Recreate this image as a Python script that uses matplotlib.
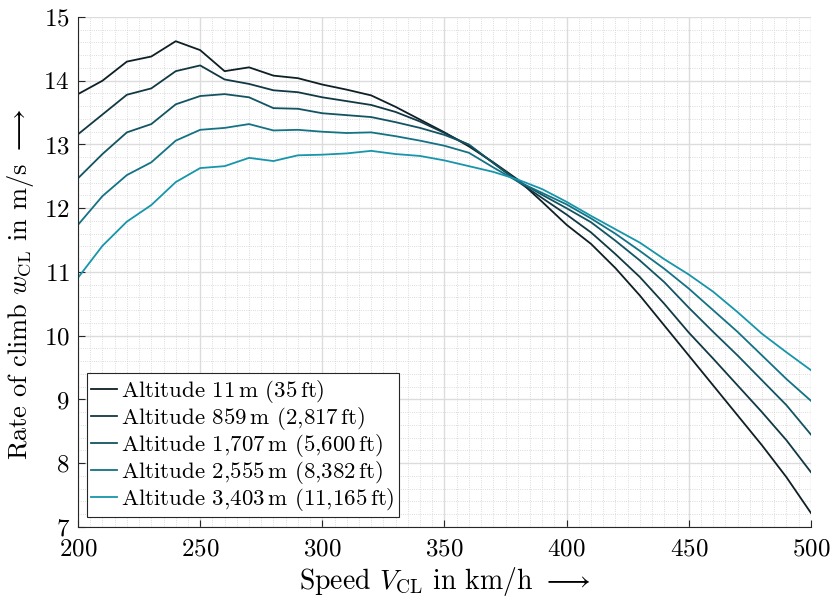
import matplotlib
matplotlib.use("Agg")
import matplotlib.pyplot as plt
from matplotlib.ticker import MultipleLocator
import numpy as np

plt.rcParams.update({
    'font.family': 'serif',
    'font.serif': ['cmr10'],
    'mathtext.fontset': 'cm',
    'axes.formatter.use_mathtext': True,
    'font.size': 17,
})

speed = np.arange(200, 501, 10)

alt_11 = [13.79, 14.00, 14.30, 14.38, 14.62, 14.48, 14.15, 14.21, 14.08, 14.04,
          13.94, 13.86, 13.77, 13.59, 13.39, 13.19, 12.97, 12.72, 12.45, 12.10,
          11.74, 11.44, 11.06, 10.63, 10.16, 9.69, 9.22, 8.75, 8.28, 7.78, 7.22]
alt_859 = [13.16, 13.47, 13.78, 13.88, 14.15, 14.24, 14.02, 13.95, 13.85, 13.82,
           13.74, 13.68, 13.62, 13.51, 13.36, 13.18, 12.99, 12.71, 12.42, 12.16,
           11.90, 11.62, 11.28, 10.92, 10.50, 10.05, 9.64, 9.22, 8.80, 8.36, 7.86]
alt_1707 = [12.47, 12.85, 13.19, 13.32, 13.63, 13.76, 13.79, 13.74, 13.57, 13.56,
            13.49, 13.46, 13.43, 13.35, 13.26, 13.15, 13.00, 12.71, 12.43, 12.21,
            12.00, 11.78, 11.49, 11.18, 10.84, 10.44, 10.06, 9.69, 9.30, 8.91, 8.45]
alt_2555 = [11.74, 12.19, 12.52, 12.72, 13.06, 13.23, 13.26, 13.32, 13.22, 13.23,
            13.20, 13.18, 13.19, 13.13, 13.06, 12.98, 12.87, 12.64, 12.42, 12.24,
            12.06, 11.84, 11.60, 11.33, 11.05, 10.74, 10.40, 10.06, 9.69, 9.32, 8.98]
alt_3403 = [10.91, 11.41, 11.79, 12.05, 12.41, 12.63, 12.66, 12.79, 12.74, 12.83,
            12.84, 12.86, 12.90, 12.85, 12.82, 12.75, 12.66, 12.57, 12.45, 12.30,
            12.10, 11.88, 11.67, 11.46, 11.20, 10.96, 10.69, 10.37, 10.03, 9.74, 9.46]

labels = [r'Altitude 11$\,$m (35$\,$ft)',
          r'Altitude 859$\,$m (2,817$\,$ft)',
          r'Altitude 1,707$\,$m (5,600$\,$ft)',
          r'Altitude 2,555$\,$m (8,382$\,$ft)',
          r'Altitude 3,403$\,$m (11,165$\,$ft)']
colors = ['#0e1f25', '#113944', '#125462', '#137284', '#1795aa']

fig = plt.figure(figsize=(8.3, 6), dpi=100)
ax = fig.add_axes([0.094, 0.1217, 0.883, 0.85])

for y, lab, c in zip([alt_11, alt_859, alt_1707, alt_2555, alt_3403], labels, colors):
    ax.plot(speed, y, color=c, linewidth=1.3, label=lab)

ax.set_xlim(200, 500)
ax.set_ylim(7, 15)
ax.xaxis.set_major_locator(MultipleLocator(50))
ax.xaxis.set_minor_locator(MultipleLocator(5))
ax.yaxis.set_major_locator(MultipleLocator(1))
ax.yaxis.set_minor_locator(MultipleLocator(0.2))
ax.grid(which='major', color='#dcdcdc', linewidth=1.0)
ax.grid(which='minor', color='#d0d0d0', linewidth=0.6, linestyle=':')
ax.set_axisbelow(True)
ax.tick_params(which='major', direction='in', length=5, color='#262626',
               labelsize=18)
ax.tick_params(axis='x', pad=8)
ax.tick_params(axis='y', pad=6)
ax.tick_params(which='minor', length=0)
for s in ['top', 'right']:
    ax.spines[s].set_visible(False)
for s in ['left', 'bottom']:
    ax.spines[s].set_color('#262626')

ax.set_xlabel(r'Speed $V_{\mathrm{CL}}$ in km/h $\longrightarrow$', fontsize=20)
ax.set_ylabel(r'Rate of climb $w_{\mathrm{CL}}$ in m/s $\longrightarrow$', fontsize=19)
ax.xaxis.set_label_coords(0.5, -0.075)
ax.yaxis.set_label_coords(-0.057, 0.475)

leg = ax.legend(loc='lower left', bbox_to_anchor=(0.012, 0.019), fancybox=False,
                edgecolor='#262626', framealpha=1, handlelength=1.1,
                handletextpad=0.2, labelspacing=0.0, borderpad=0.2,
                borderaxespad=0, fontsize=16.5)
leg.get_frame().set_linewidth(0.8)

fig.savefig('out.png', dpi=100)
